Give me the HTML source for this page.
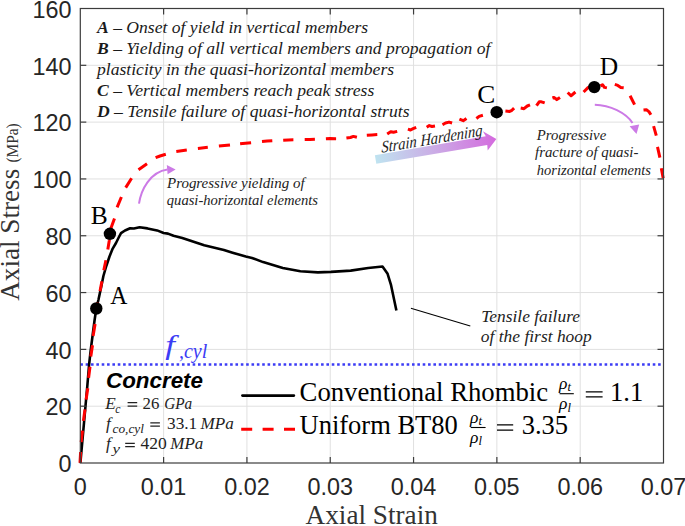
<!DOCTYPE html>
<html><head><meta charset="utf-8"><style>
html,body{margin:0;padding:0;background:#fff;}
svg{display:block;}
</style></head><body>
<svg width="685" height="526" viewBox="0 0 685 526">
<rect width="685" height="526" fill="#fff"/>
<line x1="163.61" y1="8.5" x2="163.61" y2="463.0" stroke="#e0e0e0" stroke-width="1"/>
<line x1="246.93" y1="8.5" x2="246.93" y2="463.0" stroke="#e0e0e0" stroke-width="1"/>
<line x1="330.24" y1="8.5" x2="330.24" y2="463.0" stroke="#e0e0e0" stroke-width="1"/>
<line x1="413.56" y1="8.5" x2="413.56" y2="463.0" stroke="#e0e0e0" stroke-width="1"/>
<line x1="496.87" y1="8.5" x2="496.87" y2="463.0" stroke="#e0e0e0" stroke-width="1"/>
<line x1="580.19" y1="8.5" x2="580.19" y2="463.0" stroke="#e0e0e0" stroke-width="1"/>
<line x1="80.3" y1="406.19" x2="663.5" y2="406.19" stroke="#e0e0e0" stroke-width="1"/>
<line x1="80.3" y1="349.38" x2="663.5" y2="349.38" stroke="#e0e0e0" stroke-width="1"/>
<line x1="80.3" y1="292.56" x2="663.5" y2="292.56" stroke="#e0e0e0" stroke-width="1"/>
<line x1="80.3" y1="235.75" x2="663.5" y2="235.75" stroke="#e0e0e0" stroke-width="1"/>
<line x1="80.3" y1="178.94" x2="663.5" y2="178.94" stroke="#e0e0e0" stroke-width="1"/>
<line x1="80.3" y1="122.12" x2="663.5" y2="122.12" stroke="#e0e0e0" stroke-width="1"/>
<line x1="80.3" y1="65.31" x2="663.5" y2="65.31" stroke="#e0e0e0" stroke-width="1"/>
<line x1="80.3" y1="364.5" x2="663.5" y2="364.5" stroke="#3c3cf5" stroke-width="2.6" stroke-dasharray="2.6 2.75"/>
<polyline points="80.4,462.8 83.0,434.0 85.5,406.0 87.4,385.0 89.1,364.5 90.8,349.3 93.3,330.0 94.6,320.0 96.3,308.5 98.4,300.0 100.1,292.0 101.6,285.0 103.4,276.0 106.3,266.0 109.5,256.5 112.7,248.6 116.0,243.0 118.7,237.5 121.0,233.2 125.0,230.5 130.1,228.3 133.9,228.5 139.6,227.3 147.5,228.4 157.1,230.4 163.6,233.0 168.0,233.6 173.5,235.8 182.3,238.0 192.1,241.3 204.2,245.2 223.9,250.0 232.6,252.7 245.8,256.6 252.0,258.0 263.1,262.1 282.8,268.0 300.4,271.3 317.9,272.4 331.0,271.9 350.7,270.6 368.2,268.0 382.5,266.5 387.6,273.8 390.9,284.6 396.4,310.6" fill="none" stroke="#000" stroke-width="2.6" stroke-linejoin="round"/>
<path d="M80.0,462.8 L80.6,452.0 M81.2,442.1 L82.5,430.7 M83.4,420.9 L85.0,409.4 M86.1,399.6 L87.8,388.2 M88.6,377.9 L90.0,366.7 M90.8,356.5 L92.5,345.3 M93.1,335.9 L95.1,324.0 M95.9,314.0 L96.3,308.5 L97.6,302.5 M100.0,291.2 L101.9,281.3 M103.8,270.2 L105.9,260.3 M107.8,249.6 L109.2,241.0 L109.4,239.5 M110.8,229.5 L111.1,227.8 L114.5,218.4 M117.1,207.3 L121.4,197.0 M125.7,187.6 L131.6,178.2 M138.5,169.7 L147.0,163.7 M155.6,157.7 L160.0,156.0 L165.8,154.3 M176.3,151.4 L186.8,150.0 M197.9,148.4 L207.8,147.3 L207.8,147.3 M218.9,146.1 L230.0,144.9 M240.1,143.8 L245.5,143.2 L251.1,142.7 M262.0,141.6 L267.2,141.1 L272.3,140.8 M283.2,140.2 L288.3,139.9 L293.4,139.8 M304.7,139.5 L310.0,139.4 L314.9,139.2 M325.9,138.8 L330.0,138.6 L335.8,138.7 L336.1,138.7 M346.4,138.1 L350.4,137.5 L353.4,136.4 L356.9,137.3 M366.8,135.2 L372.0,134.9 L377.3,134.6 M387.2,134.0 L390.7,131.7 L393.6,132.3 L397.2,131.4 M407.9,129.1 L410.5,130.0 L413.1,128.6 L416.2,127.3 M426.7,127.3 L429.3,125.6 L432.0,126.5 L435.0,126.0 M442.5,124.7 L445.5,123.0 L449.0,122.1 L452.1,123.0 M459.4,119.1 L463.2,120.7 L466.5,118.5 M476.4,118.5 L479.1,116.4 L482.9,115.3 M505.4,110.9 L509.7,111.4 L511.9,110.3 L514.1,108.1 M520.7,108.1 L524.0,108.7 L527.3,106.0 L530.0,104.9 M536.5,105.7 L539.2,101.8 L541.4,101.8 L544.7,102.9 M552.4,98.0 L554.0,97.4 L556.8,99.6 L560.0,97.4 M567.7,92.5 L571.0,95.8 L575.4,92.0 M583.6,92.0 L588.0,87.6 L591.0,87.4 M600.5,85.9 L602.5,84.7 L604.4,87.4 L606.9,87.9 M614.8,84.4 L617.8,85.4 L620.8,87.4 L623.7,87.7 M630.1,95.8 L632.6,100.7 L634.6,104.7 M643.5,110.1 L646.4,109.8 L648.9,111.6 L650.9,114.8 M653.6,126.2 L656.3,135.6 M657.5,146.9 L659.9,157.6 M661.3,168.2 L663.2,178.2 " fill="none" stroke="#ff0000" stroke-width="3" stroke-linejoin="round"/>
<circle cx="96.3" cy="308.5" r="6.2" fill="#000"/>
<circle cx="109.9" cy="233.8" r="6.2" fill="#000"/>
<circle cx="496.7" cy="112.2" r="6.2" fill="#000"/>
<circle cx="594.3" cy="87.1" r="6.2" fill="#000"/>
<rect x="80.3" y="8.5" width="583.20" height="454.50" fill="none" stroke="#3c3c3c" stroke-width="1.2"/>
<line x1="163.61" y1="463.0" x2="163.61" y2="457.0" stroke="#3c3c3c" stroke-width="1.2"/>
<line x1="163.61" y1="8.5" x2="163.61" y2="14.5" stroke="#3c3c3c" stroke-width="1.2"/>
<line x1="246.93" y1="463.0" x2="246.93" y2="457.0" stroke="#3c3c3c" stroke-width="1.2"/>
<line x1="246.93" y1="8.5" x2="246.93" y2="14.5" stroke="#3c3c3c" stroke-width="1.2"/>
<line x1="330.24" y1="463.0" x2="330.24" y2="457.0" stroke="#3c3c3c" stroke-width="1.2"/>
<line x1="330.24" y1="8.5" x2="330.24" y2="14.5" stroke="#3c3c3c" stroke-width="1.2"/>
<line x1="413.56" y1="463.0" x2="413.56" y2="457.0" stroke="#3c3c3c" stroke-width="1.2"/>
<line x1="413.56" y1="8.5" x2="413.56" y2="14.5" stroke="#3c3c3c" stroke-width="1.2"/>
<line x1="496.87" y1="463.0" x2="496.87" y2="457.0" stroke="#3c3c3c" stroke-width="1.2"/>
<line x1="496.87" y1="8.5" x2="496.87" y2="14.5" stroke="#3c3c3c" stroke-width="1.2"/>
<line x1="580.19" y1="463.0" x2="580.19" y2="457.0" stroke="#3c3c3c" stroke-width="1.2"/>
<line x1="580.19" y1="8.5" x2="580.19" y2="14.5" stroke="#3c3c3c" stroke-width="1.2"/>
<line x1="80.3" y1="406.19" x2="86.3" y2="406.19" stroke="#3c3c3c" stroke-width="1.2"/>
<line x1="663.5" y1="406.19" x2="657.5" y2="406.19" stroke="#3c3c3c" stroke-width="1.2"/>
<line x1="80.3" y1="349.38" x2="86.3" y2="349.38" stroke="#3c3c3c" stroke-width="1.2"/>
<line x1="663.5" y1="349.38" x2="657.5" y2="349.38" stroke="#3c3c3c" stroke-width="1.2"/>
<line x1="80.3" y1="292.56" x2="86.3" y2="292.56" stroke="#3c3c3c" stroke-width="1.2"/>
<line x1="663.5" y1="292.56" x2="657.5" y2="292.56" stroke="#3c3c3c" stroke-width="1.2"/>
<line x1="80.3" y1="235.75" x2="86.3" y2="235.75" stroke="#3c3c3c" stroke-width="1.2"/>
<line x1="663.5" y1="235.75" x2="657.5" y2="235.75" stroke="#3c3c3c" stroke-width="1.2"/>
<line x1="80.3" y1="178.94" x2="86.3" y2="178.94" stroke="#3c3c3c" stroke-width="1.2"/>
<line x1="663.5" y1="178.94" x2="657.5" y2="178.94" stroke="#3c3c3c" stroke-width="1.2"/>
<line x1="80.3" y1="122.12" x2="86.3" y2="122.12" stroke="#3c3c3c" stroke-width="1.2"/>
<line x1="663.5" y1="122.12" x2="657.5" y2="122.12" stroke="#3c3c3c" stroke-width="1.2"/>
<line x1="80.3" y1="65.31" x2="86.3" y2="65.31" stroke="#3c3c3c" stroke-width="1.2"/>
<line x1="663.5" y1="65.31" x2="657.5" y2="65.31" stroke="#3c3c3c" stroke-width="1.2"/>
<text x="71.6" y="472.30" font-family="Liberation Sans, sans-serif" font-size="23.4" fill="#262626" text-anchor="end">0</text>
<text x="71.6" y="415.49" font-family="Liberation Sans, sans-serif" font-size="23.4" fill="#262626" text-anchor="end">20</text>
<text x="71.6" y="358.68" font-family="Liberation Sans, sans-serif" font-size="23.4" fill="#262626" text-anchor="end">40</text>
<text x="71.6" y="301.86" font-family="Liberation Sans, sans-serif" font-size="23.4" fill="#262626" text-anchor="end">60</text>
<text x="71.6" y="245.05" font-family="Liberation Sans, sans-serif" font-size="23.4" fill="#262626" text-anchor="end">80</text>
<text x="71.6" y="188.24" font-family="Liberation Sans, sans-serif" font-size="23.4" fill="#262626" text-anchor="end">100</text>
<text x="71.6" y="131.43" font-family="Liberation Sans, sans-serif" font-size="23.4" fill="#262626" text-anchor="end">120</text>
<text x="71.6" y="74.61" font-family="Liberation Sans, sans-serif" font-size="23.4" fill="#262626" text-anchor="end">140</text>
<text x="71.6" y="17.80" font-family="Liberation Sans, sans-serif" font-size="23.4" fill="#262626" text-anchor="end">160</text>
<text x="80.30" y="495.3" font-family="Liberation Sans, sans-serif" font-size="23.4" fill="#262626" text-anchor="middle">0</text>
<text x="163.61" y="495.3" font-family="Liberation Sans, sans-serif" font-size="23.4" fill="#262626" text-anchor="middle">0.01</text>
<text x="246.93" y="495.3" font-family="Liberation Sans, sans-serif" font-size="23.4" fill="#262626" text-anchor="middle">0.02</text>
<text x="330.24" y="495.3" font-family="Liberation Sans, sans-serif" font-size="23.4" fill="#262626" text-anchor="middle">0.03</text>
<text x="413.56" y="495.3" font-family="Liberation Sans, sans-serif" font-size="23.4" fill="#262626" text-anchor="middle">0.04</text>
<text x="496.87" y="495.3" font-family="Liberation Sans, sans-serif" font-size="23.4" fill="#262626" text-anchor="middle">0.05</text>
<text x="580.19" y="495.3" font-family="Liberation Sans, sans-serif" font-size="23.4" fill="#262626" text-anchor="middle">0.06</text>
<text x="663.50" y="495.3" font-family="Liberation Sans, sans-serif" font-size="23.4" fill="#262626" text-anchor="middle">0.07</text>
<text x="305.6" y="524.2" font-family="Liberation Serif, serif" font-size="26.8" fill="#333" textLength="132.2" lengthAdjust="spacingAndGlyphs">Axial Strain</text>
<text transform="translate(19.0,300.8) rotate(-90)" font-family="Liberation Serif, serif" fill="#333" font-size="26.5" textLength="132" lengthAdjust="spacingAndGlyphs">Axial Stress</text>
<text transform="translate(17.9,162.6) rotate(-90)" font-family="Liberation Serif, serif" fill="#333" font-size="16.8" textLength="39.3" lengthAdjust="spacingAndGlyphs">(MPa)</text>
<text transform="translate(110.27,303.8) scale(0.929,1)" font-family="Liberation Serif, serif" font-size="25.5" fill="#000">A</text>
<text transform="translate(90.76,223.6) scale(1.0,1)" font-family="Liberation Serif, serif" font-size="25.5" fill="#000">B</text>
<text transform="translate(477.27,102.9) scale(1.06,1)" font-family="Liberation Serif, serif" font-size="25.5" fill="#000">C</text>
<text transform="translate(599.76,74.7) scale(1.0,1)" font-family="Liberation Serif, serif" font-size="25.5" fill="#000">D</text>
<text x="97" y="33.4" font-family="Liberation Serif, serif" font-style="italic" font-size="17.6" fill="#1a1a1a"><tspan font-weight="bold">A</tspan> – Onset of yield in vertical members</text>
<text x="97" y="54.1" font-family="Liberation Serif, serif" font-style="italic" font-size="17.6" fill="#1a1a1a"><tspan font-weight="bold">B</tspan> – Yielding of all vertical members and propagation of</text>
<text x="97" y="74.9" font-family="Liberation Serif, serif" font-style="italic" font-size="17.6" fill="#1a1a1a">plasticity in the quasi-horizontal members</text>
<text x="97" y="95.9" font-family="Liberation Serif, serif" font-style="italic" font-size="17.6" fill="#1a1a1a"><tspan font-weight="bold">C</tspan> – Vertical members reach peak stress</text>
<text x="97" y="116.5" font-family="Liberation Serif, serif" font-style="italic" font-size="17.6" fill="#1a1a1a"><tspan font-weight="bold">D</tspan> – Tensile failure of quasi-horizontal struts</text>
<text x="167.0" y="188.1" font-family="Liberation Serif, serif" font-style="italic" font-size="14.8" fill="#222" textLength="137.6" lengthAdjust="spacingAndGlyphs">Progressive yielding of</text>
<text x="166.8" y="204.5" font-family="Liberation Serif, serif" font-style="italic" font-size="14.8" fill="#222" textLength="151.2" lengthAdjust="spacingAndGlyphs">quasi-horizontal elements</text>
<text x="536.8" y="140.1" font-family="Liberation Serif, serif" font-style="italic" font-size="14.8" fill="#222" textLength="69.4" lengthAdjust="spacingAndGlyphs">Progressive</text>
<text x="535.0" y="157.4" font-family="Liberation Serif, serif" font-style="italic" font-size="14.8" fill="#222" textLength="103.4" lengthAdjust="spacingAndGlyphs">fracture of quasi-</text>
<text x="536.8" y="174.6" font-family="Liberation Serif, serif" font-style="italic" font-size="14.8" fill="#222" textLength="114.2" lengthAdjust="spacingAndGlyphs">horizontal elements</text>
<text x="481.2" y="321.8" font-family="Liberation Serif, serif" font-style="italic" font-size="17.5" fill="#222" textLength="98.8" lengthAdjust="spacingAndGlyphs">Tensile failure</text>
<text x="480.8" y="342.1" font-family="Liberation Serif, serif" font-style="italic" font-size="17.5" fill="#222" textLength="111" lengthAdjust="spacingAndGlyphs">of the first hoop</text>
<line x1="410.9" y1="308.3" x2="470.3" y2="326" stroke="#000" stroke-width="1.1"/>
<path d="M139,203.7 C141,190 150,172 167.5,169.6" fill="none" stroke="#cc7ae6" stroke-width="2"/>
<path d="M175.6,169.4 L166.8,165.0 L167.6,174.2 Z" fill="#cc7ae6"/>
<path d="M594.8,104.8 C610,105 626,113 632.5,123" fill="none" stroke="#cc7ae6" stroke-width="2"/>
<path d="M636.5,134.0 L629.6,126.2 L639.2,124.6 Z" fill="#cc7ae6"/>
<defs><linearGradient id="sh" x1="0" y1="0" x2="1" y2="0"><stop offset="0" stop-color="#bfe3f0"/><stop offset="0.45" stop-color="#cab0e6"/><stop offset="1" stop-color="#d46ade"/></linearGradient></defs>
<g transform="translate(375.6,159.5) rotate(-9.64)"><path d="M0,-4.35 L112.5,-4.35 L110.5,-10 L122.5,0 L112.0,10 L112.5,4.35 L0,4.35 Z" fill="url(#sh)"/></g>
<text transform="translate(381.5,152.8) skewY(-9.64)" font-family="Liberation Serif, serif" font-style="italic" font-size="16.8" fill="#222" textLength="101" lengthAdjust="spacingAndGlyphs">Strain Hardening</text>
<text transform="translate(165.2,354) scale(1.3,1)" font-family="Liberation Serif, serif" font-style="italic" font-size="27" fill="#3c3cf5">f</text>
<text x="178.9" y="358.3" font-family="Liberation Serif, serif" font-style="italic" font-size="20" fill="#3c3cf5">,cyl</text>
<text x="106" y="387.6" font-family="Liberation Sans, sans-serif" font-weight="bold" font-style="italic" font-size="22" fill="#000" textLength="97" lengthAdjust="spacingAndGlyphs">Concrete</text>
<text x="105.2" y="408.8" font-family="Liberation Serif, serif" font-style="italic" font-size="16.3" fill="#222" textLength="10.5" lengthAdjust="spacingAndGlyphs">E</text>
<text x="115.3" y="412.6" font-family="Liberation Serif, serif" font-style="italic" font-size="11.5" fill="#222" textLength="5.2" lengthAdjust="spacingAndGlyphs">c</text>
<path d="M127.6,402.7 h9.6 M127.6,406.0 h9.6" stroke="#222" stroke-width="1.25"/>
<text x="142.6" y="408.8" font-family="Liberation Serif, serif" font-size="16.3" fill="#222" textLength="16.8" lengthAdjust="spacingAndGlyphs">26</text>
<text x="164.2" y="408.8" font-family="Liberation Serif, serif" font-style="italic" font-size="16.3" fill="#222" textLength="28" lengthAdjust="spacingAndGlyphs">GPa</text>
<text x="106" y="429.0" font-family="Liberation Serif, serif" font-style="italic" font-size="17" fill="#222">f</text>
<text x="112.5" y="432.8" font-family="Liberation Serif, serif" font-style="italic" font-size="11.5" fill="#222" textLength="31.5" lengthAdjust="spacingAndGlyphs">co,cyl</text>
<path d="M150.3,422.9 h9.6 M150.3,426.2 h9.6" stroke="#222" stroke-width="1.25"/>
<text x="167.0" y="429.0" font-family="Liberation Serif, serif" font-size="16.3" fill="#222" textLength="30.2" lengthAdjust="spacingAndGlyphs">33.1</text>
<text x="200.6" y="429.0" font-family="Liberation Serif, serif" font-style="italic" font-size="16.3" fill="#222" textLength="33.2" lengthAdjust="spacingAndGlyphs">MPa</text>
<text x="106" y="449.4" font-family="Liberation Serif, serif" font-style="italic" font-size="17" fill="#222">f</text>
<text x="112.5" y="453.2" font-family="Liberation Serif, serif" font-style="italic" font-size="11.5" fill="#222" textLength="7.5" lengthAdjust="spacingAndGlyphs">y</text>
<path d="M125.2,443.3 h9.6 M125.2,446.6 h9.6" stroke="#222" stroke-width="1.25"/>
<text x="140.4" y="449.4" font-family="Liberation Serif, serif" font-size="16.3" fill="#222" textLength="26.3" lengthAdjust="spacingAndGlyphs">420</text>
<text x="170.3" y="449.4" font-family="Liberation Serif, serif" font-style="italic" font-size="16.3" fill="#222" textLength="33" lengthAdjust="spacingAndGlyphs">MPa</text>
<line x1="242.4" y1="395.6" x2="293.9" y2="395.6" stroke="#000" stroke-width="2.6" stroke-linecap="round"/>
<line x1="241.2" y1="429.2" x2="295.2" y2="429.2" stroke="#ff0000" stroke-width="3" stroke-dasharray="11 10.4"/>
<text x="299.6" y="400.7" font-family="Liberation Serif, serif" font-size="26.5" fill="#000" textLength="248.5" lengthAdjust="spacingAndGlyphs">Conventional Rhombic</text>
<text x="299.5" y="433.8" font-family="Liberation Serif, serif" font-size="26.5" fill="#000">Uniform BT80</text>
<text x="559.0" y="388.7" font-family="Liberation Serif, serif" font-style="italic" font-size="17.5" fill="#000">ρ<tspan font-size="12.5" dy="2.6">t</tspan></text><line x1="559.6" y1="393.7" x2="573.8000000000001" y2="393.7" stroke="#000" stroke-width="1.1"/><text x="559.0" y="409.0" font-family="Liberation Serif, serif" font-style="italic" font-size="17.5" fill="#000">ρ<tspan font-size="12.5" dy="2.6">l</tspan></text>
<path d="M585.8,391.8 H602.6 M585.8,396.9 H602.6" stroke="#000" stroke-width="1.25"/>
<text x="610" y="400.7" font-family="Liberation Serif, serif" font-size="26.5" fill="#000">1.1</text>
<text x="470.09999999999997" y="422.5" font-family="Liberation Serif, serif" font-style="italic" font-size="17.5" fill="#000">ρ<tspan font-size="12.5" dy="2.6">t</tspan></text><line x1="470.7" y1="427.5" x2="485.59999999999997" y2="427.5" stroke="#000" stroke-width="1.1"/><text x="470.09999999999997" y="442.8" font-family="Liberation Serif, serif" font-style="italic" font-size="17.5" fill="#000">ρ<tspan font-size="12.5" dy="2.6">l</tspan></text>
<path d="M497,424.9 H513.2 M497,430.0 H513.2" stroke="#000" stroke-width="1.25"/>
<text x="521.7" y="433.8" font-family="Liberation Serif, serif" font-size="26.5" fill="#000">3.35</text>
</svg>
</body></html>
